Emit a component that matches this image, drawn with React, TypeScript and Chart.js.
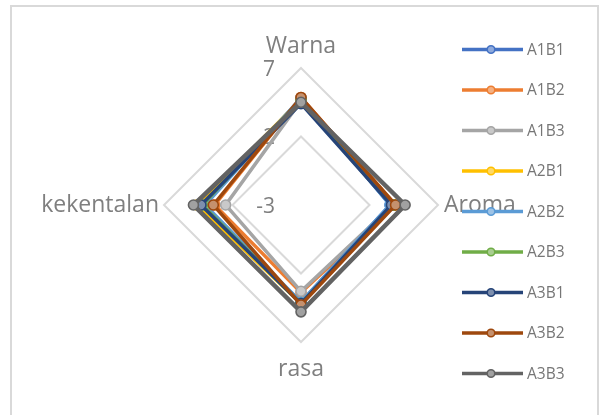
import { useEffect, useRef } from 'react';
import { Chart, registerables } from 'chart.js';

Chart.register(...registerables);

const categories = ['Warna', 'Aroma', 'rasa', 'kekentalan'];
const seriesNames = ['A1B1', 'A1B2', 'A1B3', 'A2B1', 'A2B2', 'A2B3', 'A3B1', 'A3B2', 'A3B3'];

const A1B1 = [4.8, 3.5, 4.1, 4.1];
const A1B2 = [4.85, 3.9, 3.4, 3.3];
const A1B3 = [4.6, 3.7, 3.3, 2.5];
const A2B1 = [4.7, 3.8, 4.2, 4.6];
const A2B2 = [4.8, 3.5, 4.1, 4.0];
const A2B3 = [4.7, 3.8, 4.2, 4.2];
const A3B1 = [4.4, 3.6, 4.2, 4.3];
const A3B2 = [4.85, 3.9, 4.3, 3.4];
const A3B3 = [4.5, 4.6, 4.8, 4.85];

const seriesValues = [A1B1, A1B2, A1B3, A2B1, A2B2, A2B3, A3B1, A3B2, A3B3];
const seriesColors = ['#4472C4', '#ED7D31', '#A5A5A5', '#FFC000', '#5B9BD5', '#70AD47', '#264478', '#9E480E', '#636363'];

const axisMin = -3;
const axisMax = 7;
const axisStep = 5;

function tint(hex: string, f: number): string {
  const n = parseInt(hex.slice(1), 16);
  const r = (n >> 16) & 255;
  const g = (n >> 8) & 255;
  const b = n & 255;
  const m = (c: number) => Math.round(c + (255 - c) * f);
  return `rgb(${m(r)},${m(g)},${m(b)})`;
}

const FONT = '"Open Sans", "Liberation Sans", sans-serif';

export default function App() {
  const ref = useRef<HTMLCanvasElement>(null);

  useEffect(() => {
    document.body.style.overflow = 'hidden';
    const canvas = ref.current;
    if (!canvas) return;

    const labelPlugin = {
      id: 'excelLabels',
      beforeDatasetsDraw(chart: any) {
        const s = chart.scales.r;
        const ctx = chart.ctx;
        ctx.save();
        ctx.fillStyle = '#7f7f7f';
        ctx.font = `21px ${FONT}`;
        ctx.textAlign = 'right';
        ctx.textBaseline = 'middle';
        s.ticks.forEach((t: any) => {
          const d = s.getDistanceFromCenterForValue(t.value);
          ctx.fillText(String(t.value), s.xCenter - 26, s.yCenter - d + 2);
        });
        ctx.font = `23px ${FONT}`;
        const gaps = [22, 6, 27, 5];
        const aligns = ['center', 'left', 'center', 'right'];
        categories.forEach((c, i) => {
          const p = s.getPointPosition(i, s.drawingArea + gaps[i]);
          ctx.textAlign = aligns[i];
          ctx.fillText(c, p.x, p.y);
        });
        ctx.restore();
      },
    };

    const legendPlugin = {
      id: 'excelLegend',
      afterDraw(chart: any) {
        const ctx = chart.ctx;
        ctx.save();
        chart.data.datasets.forEach((ds: any, i: number) => {
          const y = 49.5 + i * 40.5;
          ctx.strokeStyle = ds.borderColor;
          ctx.lineWidth = 3.5;
          ctx.beginPath();
          ctx.moveTo(462, y);
          ctx.lineTo(523, y);
          ctx.stroke();
          ctx.beginPath();
          ctx.arc(491, y, 3.8, 0, Math.PI * 2);
          ctx.fillStyle = ds.pointBackgroundColor;
          ctx.fill();
          ctx.lineWidth = 1.6;
          ctx.stroke();
          ctx.fillStyle = '#767676';
          ctx.font = `15.5px ${FONT}`;
          ctx.textAlign = 'left';
          ctx.textBaseline = 'middle';
          ctx.fillText(ds.label, 527, y + 1);
        });
        ctx.restore();
      },
    };

    const chart = new Chart(canvas, {
      type: 'radar',
      data: {
        labels: categories,
        datasets: seriesNames.map((name, i) => ({
          label: name,
          data: seriesValues[i],
          borderColor: seriesColors[i],
          backgroundColor: seriesColors[i],
          borderWidth: i === 8 ? 4.5 : 3.5,
          fill: false,
          tension: 0,
          pointRadius: 5,
          pointBorderWidth: 1.6,
          pointBorderColor: seriesColors[i],
          pointBackgroundColor: tint(seriesColors[i], 0.4),
          order: -i,
        })),
      },
      options: {
        responsive: false,
        animation: false,
        layout: { padding: { left: 164, right: 161, top: 68, bottom: 73 } },
        plugins: {
          legend: { display: false },
          tooltip: { enabled: false },
        },
        scales: {
          r: {
            min: axisMin,
            max: axisMax,
            ticks: { stepSize: axisStep, display: false, showLabelBackdrop: false },
            grid: { color: '#d9d9d9', lineWidth: 2 },
            angleLines: { display: false },
            pointLabels: { display: false },
          },
        },
      },
      plugins: [labelPlugin, legendPlugin],
    } as any);

    return () => chart.destroy();
  }, []);

  return (
    <>
      <div
        style={{
          position: 'absolute',
          left: 10,
          top: 5,
          width: 589,
          height: 410,
          boxSizing: 'border-box',
          borderLeft: '2px solid #d9d9d9',
          borderTop: '2px solid #d9d9d9',
          borderRight: '2px solid #d9d9d9',
        }}
      />
      <canvas
        ref={ref}
        width={599}
        height={415}
        style={{ position: 'absolute', left: 0, top: 0, width: 599, height: 415 }}
      />
    </>
  );
}
